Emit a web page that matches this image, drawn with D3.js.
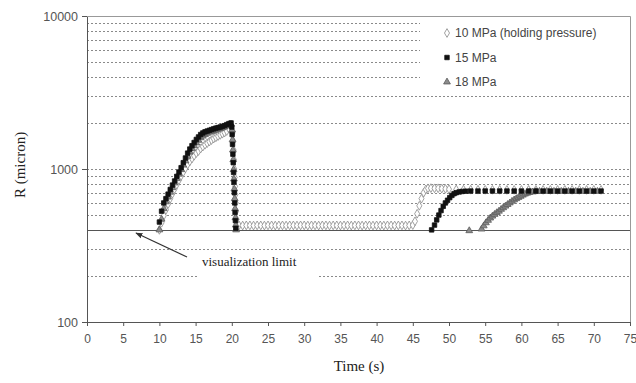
<!DOCTYPE html>
<html>
<head>
<meta charset="utf-8">
<script src="https://cdn.jsdelivr.net/npm/d3@7"></script>
<style>
body { margin: 0; background: #fff; }
svg { display: block; }
</style>
</head>
<body>
<svg id="chart" width="636" height="383"></svg>
<script>
// ---- data ----
var xTickValues = [0, 5, 10, 15, 20, 25, 30, 35, 40, 45, 50, 55, 60, 65, 70, 75];
var yTickValues = [100, 1000, 10000];
var gridValues = [200, 300, 500, 600, 700, 800, 900, 1000, 2000, 3000, 4000, 5000, 6000, 7000, 8000, 9000];
var limitValue = 400;

// 10 MPa (holding pressure)
var s10 = [
	[10.0,400],[10.3,445],[10.6,495],[10.9,540],[11.2,590],[11.5,640],[11.8,690],[12.1,740],[12.4,790],[12.7,845],
	[13.0,900],[13.3,955],[13.6,1010],[13.9,1070],[14.2,1120],[14.5,1170],[14.8,1220],[15.1,1270],[15.4,1310],[15.7,1360],
	[16.0,1400],[16.3,1440],[16.6,1475],[16.9,1510],[17.2,1545],[17.5,1580],[17.8,1610],[18.1,1640],[18.4,1670],[18.7,1700],
	[19.0,1730],[19.3,1770],[19.6,1830],[19.9,1900],
	[20.1,1720],[20.2,1520],[20.25,1330],[20.3,1150],[20.35,1000],[20.4,880],[20.45,770],[20.5,680],[20.55,600],[20.6,530],
	[20.65,470],[20.7,420],
	[21.0,428],[21.5,427],[22.0,428],[22.5,428],[23.0,427],[23.5,428],[24.0,428],[24.5,427],[25.0,428],[25.5,428],
	[26.0,427],[26.5,428],[27.0,428],[27.5,427],[28.0,428],[28.5,428],[29.0,427],[29.5,428],[30.0,428],[30.5,427],
	[31.0,428],[31.5,428],[32.0,427],[32.5,428],[33.0,428],[33.5,427],[34.0,428],[34.5,428],[35.0,427],[35.5,428],
	[36.0,428],[36.5,427],[37.0,428],[37.5,428],[38.0,427],[38.5,428],[39.0,428],[39.5,427],[40.0,428],[40.5,428],
	[41.0,427],[41.5,428],[42.0,428],[42.5,427],[43.0,428],[43.5,428],[44.0,427],[44.5,428],[45.0,430],
	[45.3,455],[45.6,510],[45.9,575],[46.2,640],[46.5,700],[46.8,735],[47.1,748],[47.5,750],[48.0,748],[48.5,748],
	[49.0,745],[49.5,742],[50.0,738],[51,735],[52,733],[53,732],[54,732],[55,731],[56,731],[57,731],[58,730],
	[59,730],[60,730],[61,730],[62,730],[63,730],[64,730],[65,730],[66,730],[67,730],[68,730],[69,730],[70,730],[71,730]
];

// 15 MPa
var s15 = [
	[10.0,450],[10.3,530],[10.6,600],[10.9,640],[11.2,685],[11.5,735],[11.8,785],[12.1,835],[12.4,895],[12.7,955],
	[13.0,1020],[13.3,1100],[13.6,1180],[13.9,1270],[14.2,1350],[14.5,1420],[14.8,1490],[15.1,1560],[15.4,1620],[15.7,1680],
	[16.0,1720],[16.3,1750],[16.6,1770],[16.9,1790],[17.2,1810],[17.5,1830],[17.8,1850],[18.1,1865],[18.4,1880],[18.7,1900],
	[19.0,1920],[19.3,1950],[19.6,1980],[19.9,2000],
	[20.0,1880],[20.05,1680],[20.1,1450],[20.15,1250],[20.2,1100],[20.25,950],[20.3,820],[20.35,700],[20.4,600],[20.45,520],
	[20.5,460],[20.55,410],
	[47.6,400],[48.0,430],[48.3,465],[48.6,500],[48.9,535],[49.2,570],[49.5,600],[49.8,625],[50.1,650],[50.4,672],
	[50.7,690],[51.0,700],[51.4,708],[51.8,713],[52.3,716],[53,718],[54,718],[55,718],[56,718],[57,718],[58,718],
	[59,718],[60,718],[61,718],[62,718],[63,718],[64,718],[65,718],[66,718],[67,718],[68,718],[69,718],[70,718],[71,718]
];

// 18 MPa
var s18 = [
	[10.0,400],[10.3,470],[10.6,550],[10.9,610],[11.2,655],[11.5,705],[11.8,755],[12.1,810],[12.4,865],[12.7,925],
	[13.0,990],[13.3,1060],[13.6,1130],[13.9,1210],[14.2,1290],[14.5,1360],[14.8,1420],[15.1,1480],[15.4,1540],[15.7,1600],
	[16.0,1640],[16.3,1680],[16.6,1710],[16.9,1740],[17.2,1760],[17.5,1780],[17.8,1800],[18.1,1820],[18.4,1840],[18.7,1860],
	[19.0,1880],[19.3,1910],[19.6,1940],[19.9,1960],
	[20.05,1800],[20.1,1550],[20.15,1330],[20.2,1150],[20.25,990],[20.3,860],[20.35,740],[20.4,640],[20.45,550],[20.5,480],
	[20.55,430],[20.6,400],
	[52.8,395],
	[54.5,405],[54.8,425],[55.1,445],[55.4,462],[55.7,478],[56.0,492],[56.3,505],[56.6,518],[56.9,530],[57.2,545],
	[57.5,558],[57.8,572],[58.1,586],[58.4,600],[58.7,615],[59.0,628],[59.3,640],[59.6,652],[59.9,663],[60.2,675],
	[60.5,686],[60.8,695],[61.1,702],[61.5,708],[62.0,712],[62.5,714],[63.5,714],[64.5,714],[65.5,714],[66.5,714],
	[67.5,714],[68.5,714],[69.5,714],[70.5,714]
];

var seriesNames = ["10 MPa (holding pressure)", "15 MPa", "18 MPa"];

// ---- layout ----
var plotLeft = 87, plotTop = 16, plotRight = 630, plotBottom = 322;

var svg = d3.select("#chart");

var x = d3.scaleLinear().domain([0, 75]).range([plotLeft, plotRight]);
var y = d3.scaleLog().domain([100, 10000]).range([plotBottom, plotTop]);

//grid lines (dotted), full width - boxes below cover them where the picture does
svg.append("g").attr("class", "grid")
	.selectAll("line").data(gridValues).enter().append("line")
	.attr("x1", plotLeft).attr("x2", plotRight)
	.attr("y1", function(d) { return Math.round(y(d)) + 0.5; })
	.attr("y2", function(d) { return Math.round(y(d)) + 0.5; })
	.attr("stroke", "#8a8a8a")
	.attr("stroke-width", 1)
	.attr("stroke-dasharray", "2,2");

//visualization limit
svg.append("line")
	.attr("x1", plotLeft).attr("x2", plotRight)
	.attr("y1", Math.round(y(limitValue)) + 0.5)
	.attr("y2", Math.round(y(limitValue)) + 0.5)
	.attr("stroke", "#555")
	.attr("stroke-width", 1.2);

//legend box (white, hides grid)
svg.append("rect")
	.attr("x", 420).attr("y", plotTop + 1)
	.attr("width", plotRight - 420 - 1).attr("height", 72)
	.attr("fill", "#fff");

//annotation box (white, hides grid)
svg.append("rect")
	.attr("x", 199).attr("y", 254)
	.attr("width", 118).attr("height", 28)
	.attr("fill", "#fff");

// ---- markers ----
var diamond = d3.symbol().type(d3.symbolDiamond).size(22);
var square = d3.symbol().type(d3.symbolSquare).size(20);
var triangle = d3.symbol().type(d3.symbolTriangle).size(20);

function drawSeries(data, sym, fill, stroke, cls) {
	svg.append("g").attr("class", cls)
		.selectAll("path").data(data).enter().append("path")
		.attr("d", sym)
		.attr("transform", function(d) { return "translate(" + x(d[0]) + "," + y(d[1]) + ")"; })
		.attr("fill", fill)
		.attr("stroke", stroke)
		.attr("stroke-width", 0.8);
}

drawSeries(s10, diamond, "#fff", "#8a8a8a", "s10");
drawSeries(s18, triangle, "#8c8c8c", "#5a5a5a", "s18");
drawSeries(s15, square, "#111", "#111", "s15");

// ---- axes ----
var xAxis = d3.axisBottom(x).tickValues(xTickValues).tickSize(4).tickFormat(d3.format("d"));
var gx = svg.append("g").attr("transform", "translate(0," + plotBottom + ")").call(xAxis);
gx.select(".domain").attr("stroke", "#555");
gx.selectAll(".tick line").attr("stroke", "#555");
gx.selectAll("text")
	.attr("fill", "#555")
	.attr("dy", "1.15em")
	.style("font-family", "Arial, 'Liberation Sans', sans-serif")
	.style("font-size", "12px");

var yAxis = d3.axisLeft(y).tickValues(yTickValues).tickSize(5).tickFormat(d3.format("d"));
var gy = svg.append("g").attr("transform", "translate(" + plotLeft + ",0)").call(yAxis);
gy.select(".domain").attr("stroke", "#555");
gy.selectAll(".tick line").attr("stroke", "#555");
gy.selectAll("text")
	.attr("fill", "#555")
	.attr("x", -9)
	.style("font-family", "Arial, 'Liberation Sans', sans-serif")
	.style("font-size", "12.5px");

//top + right border
svg.append("path")
	.attr("d", "M" + plotLeft + "," + (plotTop + 0.5) + "H" + (plotRight + 0.5) + "V" + plotBottom)
	.attr("fill", "none")
	.attr("stroke", "#999");

// ---- legend ----
var legendSyms = [diamond, square, triangle];
var legendFill = ["#fff", "#111", "#8c8c8c"];
var legendStroke = ["#8a8a8a", "#111", "#5a5a5a"];
var legend = svg.append("g").attr("class", "legend");
seriesNames.forEach(function(name, i) {
	var ly = 33 + i * 24.5;
	legend.append("path")
		.attr("d", legendSyms[i])
		.attr("transform", "translate(447," + ly + ")")
		.attr("fill", legendFill[i])
		.attr("stroke", legendStroke[i])
		.attr("stroke-width", 0.8);
	legend.append("text")
		.attr("x", 455).attr("y", ly + 4)
		.attr("fill", "#444")
		.style("font-family", "Arial, 'Liberation Sans', sans-serif")
		.style("font-size", "12px")
		.text(name);
});

// ---- annotation ----
svg.append("defs").append("marker")
	.attr("id", "arrow")
	.attr("viewBox", "0 0 10 10")
	.attr("refX", 9).attr("refY", 5)
	.attr("markerWidth", 6).attr("markerHeight", 6)
	.attr("orient", "auto")
	.append("path").attr("d", "M0,1L10,5L0,9Z").attr("fill", "#333");

svg.append("line")
	.attr("x1", 187).attr("y1", 257)
	.attr("x2", 136).attr("y2", 233)
	.attr("stroke", "#333")
	.attr("stroke-width", 1.2)
	.attr("marker-end", "url(#arrow)");

svg.append("text")
	.attr("x", 202).attr("y", 266)
	.attr("fill", "#222")
	.style("font-family", "'Times New Roman', 'Liberation Serif', serif")
	.style("font-size", "13px")
	.text("visualization limit");

// ---- axis titles ----
svg.append("text")
	.attr("x", 359).attr("y", 371)
	.attr("text-anchor", "middle")
	.attr("fill", "#222")
	.style("font-family", "'Times New Roman', 'Liberation Serif', serif")
	.style("font-size", "15px")
	.text("Time (s)");

svg.append("text")
	.attr("transform", "translate(25,165) rotate(-90)")
	.attr("text-anchor", "middle")
	.attr("fill", "#222")
	.style("font-family", "'Times New Roman', 'Liberation Serif', serif")
	.style("font-size", "15px")
	.text("R (micron)");
</script>
</body>
</html>
